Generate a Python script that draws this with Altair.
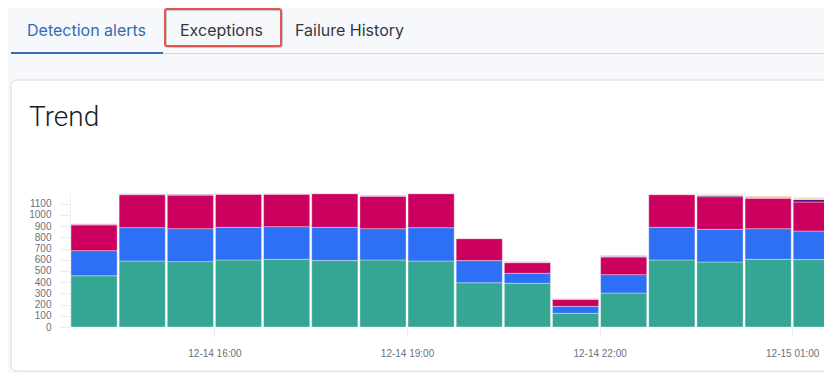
import altair as alt
import pandas as pd

# ---- data ----
starts = [
    "2023-12-14T13:45:00Z", "2023-12-14T14:30:00Z", "2023-12-14T15:15:00Z", "2023-12-14T16:00:00Z",
    "2023-12-14T16:45:00Z", "2023-12-14T17:30:00Z", "2023-12-14T18:15:00Z", "2023-12-14T19:00:00Z",
    "2023-12-14T19:45:00Z", "2023-12-14T20:30:00Z", "2023-12-14T21:15:00Z", "2023-12-14T22:00:00Z",
    "2023-12-14T22:45:00Z", "2023-12-14T23:30:00Z", "2023-12-15T00:15:00Z", "2023-12-15T01:00:00Z",
]
ends = [
    "2023-12-14T14:30:00Z", "2023-12-14T15:15:00Z", "2023-12-14T16:00:00Z", "2023-12-14T16:45:00Z",
    "2023-12-14T17:30:00Z", "2023-12-14T18:15:00Z", "2023-12-14T19:00:00Z", "2023-12-14T19:45:00Z",
    "2023-12-14T20:30:00Z", "2023-12-14T21:15:00Z", "2023-12-14T22:00:00Z", "2023-12-14T22:45:00Z",
    "2023-12-14T23:30:00Z", "2023-12-15T00:15:00Z", "2023-12-15T01:00:00Z", "2023-12-15T01:45:00Z",
]
series_names = ["Series 1", "Series 2", "Series 3", "Series 4", "Series 5", "Series 6"]
series_colors = ["#34a693", "#2d70f5", "#cc005e", "#4b1985", "#ec9cc0", "#f3c59e"]

s1 = [457, 589, 583, 598, 604, 592, 598, 589, 395, 390, 122, 303, 598, 580, 604, 601]
s2 = [224, 297, 294, 291, 291, 297, 279, 297, 197, 89, 62, 164, 291, 291, 273, 255]
s3 = [229, 294, 298, 294, 289, 300, 289, 303, 196, 95, 63, 157, 291, 291, 271, 259]
s4 = [0, 4, 8, 0, 0, 0, 0, 0, 0, 0, 0, 6, 0, 10, 0, 22]
s5 = [10, 4, 3, 5, 4, 3, 10, 3, 3, 8, 4, 4, 6, 4, 12, 6]
s6 = [0, 0, 0, 0, 0, 0, 0, 0, 0, 6, 5, 8, 0, 8, 8, 12]

y_ticks = [0, 100, 200, 300, 400, 500, 600, 700, 800, 900, 1000, 1100]
tab_labels = ["Detection alerts", "Exceptions", "Failure History"]
title_text = "Trend"

# ---- table ----
rows = []
for k, vals in enumerate([s1, s2, s3, s4, s5, s6]):
    for i, v in enumerate(vals):
        if v > 0:
            rows.append({"start": starts[i], "end": ends[i], "series": series_names[k],
                         "order": k, "count": v})
df = pd.DataFrame(rows)
one = pd.DataFrame({"a": [0]})

x_domain = [alt.DateTime(year=2023, month=12, date=14, hours=13, minutes=45, utc=True),
            alt.DateTime(year=2023, month=12, date=15, hours=1, minutes=29, seconds=42, utc=True)]
x_ticks = [alt.DateTime(year=2023, month=12, date=14, hours=16, utc=True),
           alt.DateTime(year=2023, month=12, date=14, hours=19, utc=True),
           alt.DateTime(year=2023, month=12, date=14, hours=22, utc=True),
           alt.DateTime(year=2023, month=12, date=15, hours=1, utc=True)]

AXIS_FONT = "Liberation Sans"

bars = alt.Chart(df).transform_stack(
    stack="count", groupby=["start"], as_=["y0", "y1"],
    sort=[alt.SortField(field="order", order="ascending")]
).mark_bar(clip=True, xOffset=1, x2Offset=-1, stroke="white", strokeWidth=0.8,
           strokeOpacity=0.45).encode(
    x=alt.X("start:T", scale=alt.Scale(type="utc", domain=x_domain),
            axis=alt.Axis(values=x_ticks, format="%m-%d %H:%M", title=None, domain=False,
                          grid=False, tickSize=10, tickColor="#e9ecf0", labelPadding=11,
                          labelFont=AXIS_FONT, labelFontSize=10, labelColor="#6a717d",
                          zindex=1)),
    x2="end:T",
    y=alt.Y("y0:Q", scale=alt.Scale(domain=[0, 1195], nice=False),
            axis=alt.Axis(values=y_ticks, format="d", title=None, grid=False, domain=True,
                          domainColor="#eceef2", tickSize=10, tickColor="#e9ecf0",
                          labelPadding=9, labelFont=AXIS_FONT, labelFontSize=10,
                          labelColor="#6a717d", zindex=1)),
    y2="y1:Q",
    color=alt.Color("series:N", scale=alt.Scale(domain=series_names, range=series_colors),
                    legend=None),
)

card = alt.Chart(one).mark_rect(fill="white", stroke="#d3dae6", strokeWidth=1,
                                cornerRadius=6).encode(
    x=alt.value(-59), x2=alt.value(780), y=alt.value(-113), y2=alt.value(178))

tab_line = alt.Chart(one).mark_rule(color="#d3dae6", strokeWidth=1).encode(
    x=alt.value(-59), x2=alt.value(780), y=alt.value(-139.5))

tab_active = alt.Chart(one).mark_rect(fill="#2f6db5").encode(
    x=alt.value(-59), x2=alt.value(93), y=alt.value(-141), y2=alt.value(-139))

box_shadow = alt.Chart(one).mark_rect(fillOpacity=0, stroke="#8a8f98", strokeWidth=1.5,
                                      strokeOpacity=0.6, cornerRadius=2).encode(
    x=alt.value(96), x2=alt.value(212), y=alt.value(-183), y2=alt.value(-146))

red_box = alt.Chart(one).mark_rect(fillOpacity=0, stroke="#e5574c", strokeWidth=2,
                                   cornerRadius=2).encode(
    x=alt.value(95), x2=alt.value(211), y=alt.value(-184), y2=alt.value(-147))

tab_x = [-43, 110, 225]
tab_colors = ["#2f6db5", "#343741", "#343741"]
tabs = [
    alt.Chart(one).mark_text(align="left", baseline="alphabetic", font="Inter", fontSize=16,
                             color=c).encode(x=alt.value(xv), y=alt.value(-157),
                                             text=alt.value(t))
    for t, xv, c in zip(tab_labels, tab_x, tab_colors)
]

title = alt.Chart(one).mark_text(align="left", baseline="alphabetic", font="Roboto",
                                 fontSize=28, fontWeight=300, color="#1a1c21").encode(
    x=alt.value(-41), y=alt.value(-67), text=alt.value(title_text))

chart = alt.layer(card, tab_line, tab_active, box_shadow, red_box, *tabs, title, bars).properties(
    width=754, height=134,
    autosize=alt.AutoSizeParams(type="none"),
    padding={"left": 62, "top": 185, "right": 0, "bottom": 46},
    background="#f7f8fc",
).configure_view(strokeWidth=0)

chart.save("out.html", embed_options={"renderer": "svg", "actions": False})
